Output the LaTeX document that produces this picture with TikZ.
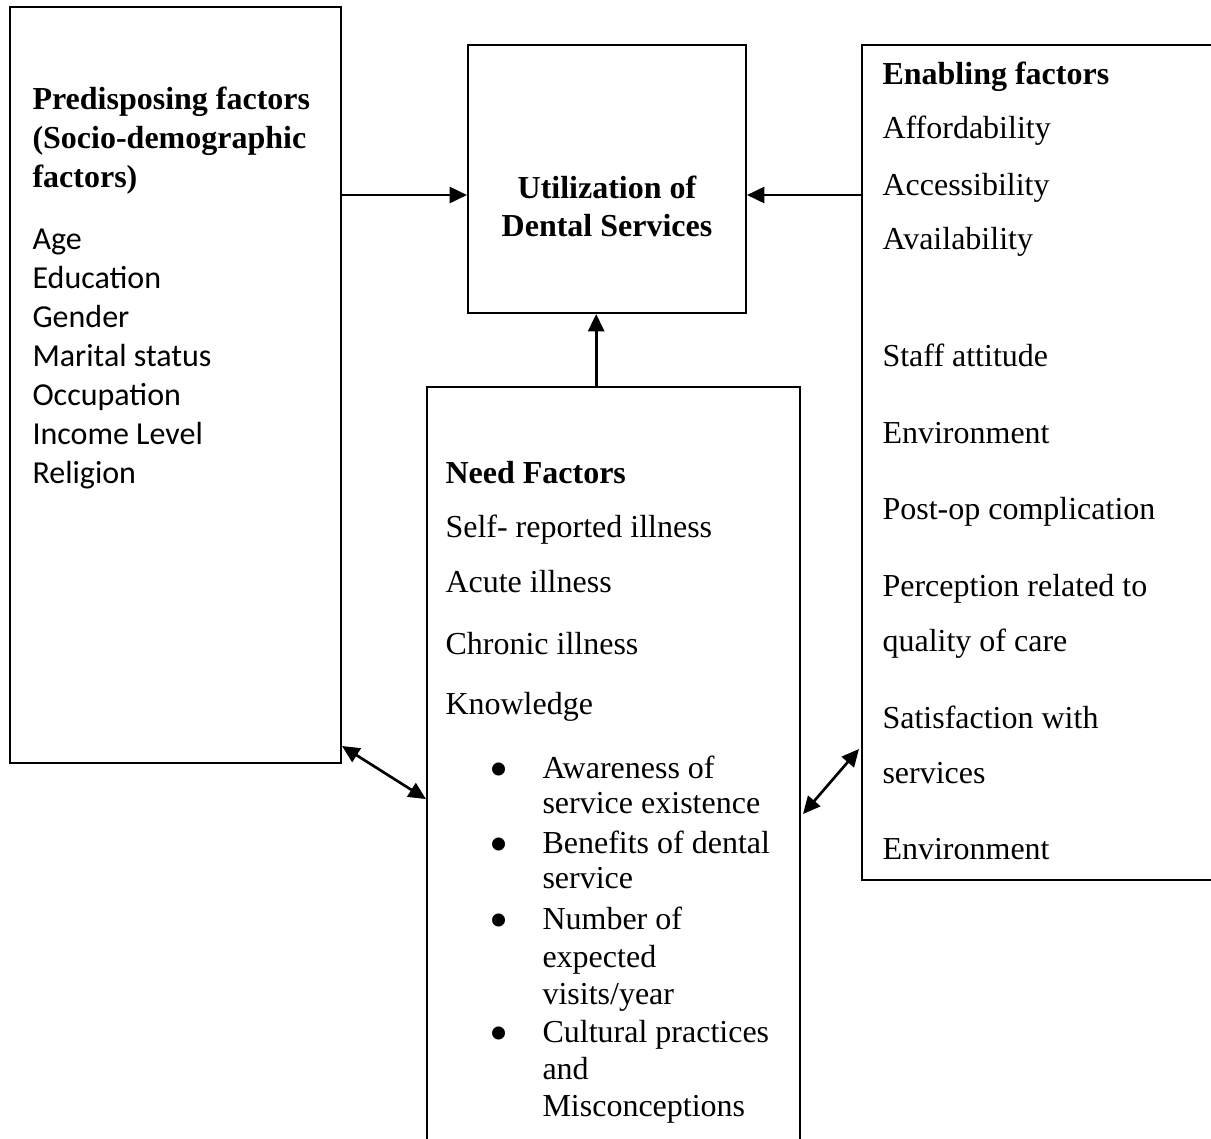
\documentclass[tikz,border=0pt]{standalone}
\usepackage{fontspec}
\setmainfont{Liberation Serif}
\newfontfamily\calibri{Carlito}
\usetikzlibrary{arrows.meta, positioning}

\newcommand{\bigbullet}{\raisebox{-3.6pt}{\scalebox{1.7}{\textbullet}}}

\begin{document}
\begin{tikzpicture}[
    x=0.375pt, y=-0.375pt,
    every node/.style={inner sep=0pt, font=\fontsize{12}{14}\selectfont},
    box/.style={rectangle, draw=black, line width=0.75pt},
    head/.style={anchor=base west, font=\fontsize{12}{14}\selectfont\bfseries},
    item/.style={anchor=base west},
    plain/.style={anchor=base west, font=\fontsize{12}{14}\selectfont\calibri},
    bul/.style={anchor=base},
    arrow/.style={-{Triangle[length=6.5pt, width=6pt]}, line width=1pt},
    twoway/.style={{Triangle[length=6.5pt, width=6pt]}-{Triangle[length=6.5pt, width=6pt]}, line width=1pt}
]
\useasboundingbox (0,0) rectangle (1211,1139);
\clip (0,0) rectangle (1211,1139);

% Boxes
\node[box, minimum width=124.125pt, minimum height=283.5pt] (pred) at (175.5,385) {};
\node[box, minimum width=104.25pt, minimum height=100.5pt] (util) at (607,179) {};
\node[box, minimum width=141.75pt, minimum height=313.125pt] (enab) at (1051,462.5) {};
\node[box, minimum width=139.875pt, minimum height=289.875pt] (need) at (613.5,773.5) {};

% Predisposing factors
\node[head] (predA) at (32,109) {Predisposing factors};
\node[head] (predB) at (32,148) {(Socio-demographic};
\node[head] (predC) at (32,187) {factors)};
\node[plain] (age) at (32,249) {Age};
\node[plain] (edu) at (32,288) {Education};
\node[plain] (gender) at (32,327) {Gender};
\node[plain] (marital) at (32,366) {Marital status};
\node[plain] (occup) at (32,405) {Occupation};
\node[plain] (income) at (32,444) {Income Level};
\node[plain] (relig) at (32,483) {Religion};

% Utilization
\node[anchor=base, font=\fontsize{12}{14}\selectfont\bfseries] (utilA) at (607,198) {Utilization of};
\node[anchor=base, font=\fontsize{12}{14}\selectfont\bfseries] (utilB) at (607,236) {Dental Services};

% Enabling factors
\node[head] (enabA) at (882,84) {Enabling factors};
\node[item] (afford) at (882,138) {Affordability};
\node[item] (access) at (882,195) {Accessibility};
\node[item] (avail) at (882,249) {Availability};
\node[item] (staff) at (882,366) {Staff attitude};
\node[item] (envA) at (882,443) {Environment};
\node[item] (postop) at (882,519) {Post-op complication};
\node[item] (percA) at (882,596) {Perception related to};
\node[item] (percB) at (882,651) {quality of care};
\node[item] (satA) at (882,728) {Satisfaction with};
\node[item] (satB) at (882,783) {services};
\node[item] (envB) at (882,859) {Environment};

% Need factors
\node[head] (needA) at (445,483) {Need Factors};
\node[item] (selfrep) at (445,537) {Self- reported illness};
\node[item] (acute) at (445,592) {Acute illness};
\node[item] (chronic) at (445,654) {Chronic illness};
\node[item] (know) at (445,714) {Knowledge};
\node[bul] (bulA) at (499,778) {\bigbullet};
\node[item] (awareA) at (542,778) {Awareness of};
\node[item] (awareB) at (542,813) {service existence};
\node[bul] (bulB) at (499,853) {\bigbullet};
\node[item] (benA) at (542,853) {Benefits of dental};
\node[item] (benB) at (542,888) {service};
\node[bul] (bulC) at (499,929) {\bigbullet};
\node[item] (numA) at (542,929) {Number of};
\node[item] (numB) at (542,967) {expected};
\node[item] (numC) at (542,1004) {visits/year};
\node[bul] (bulD) at (499,1042) {\bigbullet};
\node[item] (cultA) at (542,1042) {Cultural practices};
\node[item] (cultB) at (542,1079) {and};
\node[item] (cultC) at (542,1116) {Misconceptions};

% Arrows
\draw[arrow] ([yshift=-6pt]pred.east |- util.west) -- ([yshift=-6pt]util.west);
\draw[arrow] ([yshift=-6pt]enab.west |- util.east) -- ([yshift=-6pt]util.east);
\draw[arrow] ([xshift=-6.5pt]need.north) -- ([xshift=-6.5pt]need.north |- util.south);
\draw[twoway] ([yshift=6.75pt]pred.south east) -- ([yshift=-154.9pt]need.north west);
\draw[twoway] ([xshift=0.75pt, yshift=-160.5pt]need.north east) -- ([xshift=-0.75pt, yshift=49.5pt]enab.south west);

\end{tikzpicture}
\end{document}
